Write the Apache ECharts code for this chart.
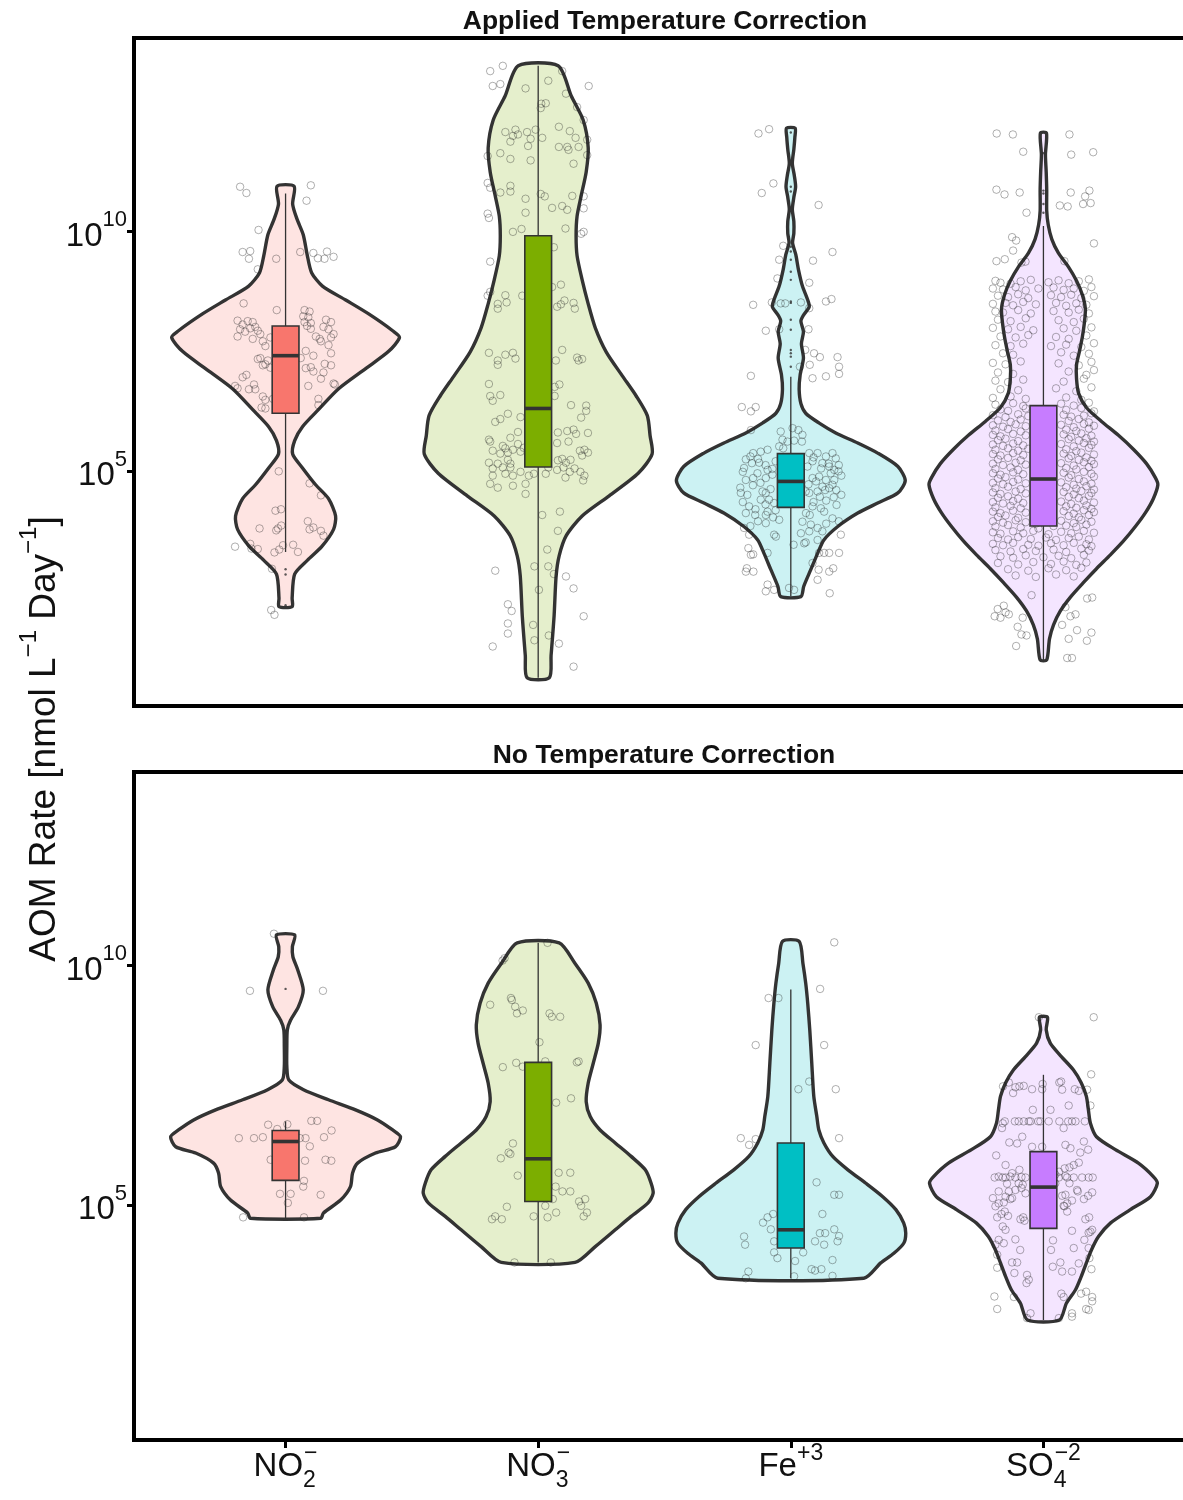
<!DOCTYPE html>
<html>
<head>
<meta charset="utf-8">
<script src="https://cdn.jsdelivr.net/npm/echarts@6/dist/echarts.min.js"></script>
<style>
  html, body { margin: 0; padding: 0; background: #ffffff; }
  #chart { width: 1183px; height: 1500px; }
</style>
</head>
<body>
<div id="chart"></div>
<script>
// ---------------------------------------------------------------------------
// Data: AOM rates by electron acceptor, log10(nmol L^-1 Day^-1)
// ---------------------------------------------------------------------------
const categories = ['NO2-', 'NO3-', 'Fe+3', 'SO4-2'];
const categoryLabels = [
  '{b|NO}{sub|2}{sup|\u2212}',
  '{b|NO}{sub|3}{sup|\u2212}',
  '{b|Fe}{sup|+3}',
  '{b|SO}{sub|4}{sup|\u22122}'
];
const panelTitles = ['Applied Temperature Correction', 'No Temperature Correction'];
const yTickExponents = [5, 10];
const yTitle = '{a|AOM Rate [nmol L}{s|\u22121}{a| Day}{s|\u22121}{a|]}';

// Violin outlines: [log10 rate, half width in category units], top to bottom
const corrNO2Violin = [[10.93,0.034],[10.56,0.028],[10.25,0.045],[9.92,0.070],[9.49,0.086],[9.13,0.103],[8.85,0.146],[8.56,0.238],[8.27,0.329],[7.92,0.424],[7.78,0.451],[7.49,0.408],[7.13,0.317],[6.71,0.210],[6.28,0.131],[5.92,0.067],[5.63,0.036],[5.35,0.028],[5.06,0.067],[4.71,0.119],[4.42,0.170],[4.06,0.198],[3.78,0.190],[3.42,0.143],[3.14,0.087],[2.85,0.036],[2.35,0.026],[2.17,0.026]];
const corrNO3Violin = [[13.44,0.079],[12.81,0.131],[12.31,0.178],[11.73,0.198],[11.23,0.190],[10.73,0.170],[10.31,0.154],[9.90,0.150],[9.48,0.154],[8.98,0.174],[8.48,0.198],[7.98,0.226],[7.48,0.269],[6.98,0.333],[6.56,0.388],[6.15,0.432],[5.73,0.443],[5.35,0.451],[4.95,0.396],[4.48,0.281],[4.06,0.174],[3.65,0.111],[3.23,0.083],[2.81,0.071],[1.98,0.063],[1.15,0.051],[0.69,0.044]];
const corrFeViolin = [[12.14,0.017],[11.95,0.016],[11.7,0.012],[11.41,0.006],[11.15,0.014],[10.92,0.019],[10.7,0.012],[10.45,0.006],[10.2,0.012],[9.95,0.012],[9.75,0.007],[9.5,0.020],[9.2,0.030],[8.85,0.046],[8.56,0.067],[8.42,0.073],[8.25,0.051],[8.12,0.040],[7.9,0.050],[7.65,0.042],[7.35,0.050],[7.0,0.037],[6.7,0.033],[6.4,0.040],[6.2,0.059],[6.0,0.111],[5.79,0.178],[5.58,0.265],[5.37,0.344],[5.09,0.424],[4.8,0.453],[4.54,0.424],[4.33,0.344],[4.12,0.265],[3.84,0.186],[3.56,0.131],[3.29,0.107],[2.94,0.079],[2.59,0.051],[2.38,0.040]];
const corrSO4Violin = [[12.04,0.012],[11.59,0.008],[11.22,0.011],[10.86,0.013],[10.42,0.013],[10.13,0.019],[9.83,0.033],[9.54,0.059],[9.25,0.099],[8.96,0.131],[8.67,0.154],[8.38,0.166],[8.08,0.162],[7.79,0.154],[7.50,0.143],[7.21,0.131],[6.92,0.131],[6.62,0.139],[6.32,0.170],[6.03,0.230],[5.74,0.297],[5.45,0.356],[5.15,0.408],[4.86,0.443],[4.71,0.453],[4.42,0.435],[4.13,0.404],[3.84,0.364],[3.54,0.317],[3.25,0.265],[2.96,0.210],[2.67,0.158],[2.37,0.107],[2.08,0.067],[1.79,0.040],[1.50,0.024],[1.06,0.013]];

const rawNO2Violin = [[10.625,0.036],[10.38,0.027],[10.17,0.029],[9.90,0.048],[9.48,0.070],[9.13,0.051],[8.85,0.020],[8.65,0.007],[8.30,0.005],[7.88,0.005],[7.60,0.013],[7.40,0.071],[7.19,0.170],[6.98,0.277],[6.77,0.364],[6.56,0.424],[6.42,0.455],[6.21,0.435],[6.08,0.356],[5.87,0.285],[5.66,0.265],[5.38,0.257],[5.10,0.218],[4.83,0.150],[4.72,0.139]];
const rawNO3Violin = [[10.46,0.083],[10.03,0.146],[9.62,0.198],[9.20,0.230],[8.75,0.245],[8.37,0.238],[7.95,0.218],[7.54,0.198],[7.15,0.190],[6.84,0.206],[6.56,0.245],[6.29,0.305],[6.01,0.368],[5.73,0.424],[5.45,0.447],[5.24,0.455],[5.04,0.435],[4.76,0.368],[4.48,0.305],[4.13,0.226],[3.80,0.146]];
const rawFeViolin = [[10.49,0.033],[10.03,0.048],[9.62,0.059],[9.20,0.067],[8.65,0.075],[7.95,0.083],[7.26,0.091],[6.84,0.103],[6.56,0.111],[6.29,0.131],[6.01,0.166],[5.73,0.226],[5.45,0.297],[5.17,0.364],[4.90,0.416],[4.62,0.447],[4.41,0.455],[4.20,0.447],[3.99,0.408],[3.79,0.356],[3.47,0.289]];
const rawSO4Violin = [[8.91,0.016],[8.65,0.011],[8.37,0.027],[8.09,0.071],[7.81,0.119],[7.54,0.150],[7.26,0.170],[6.98,0.178],[6.70,0.186],[6.42,0.210],[6.15,0.285],[5.87,0.376],[5.59,0.435],[5.45,0.451],[5.17,0.424],[4.90,0.344],[4.62,0.265],[4.34,0.218],[4.06,0.190],[3.79,0.170],[3.51,0.150],[3.23,0.127],[2.95,0.091],[2.60,0.063]];

// Box statistics: [lower whisker, Q1, median, Q3, upper whisker]
const corrBoxes = [[3.31,6.2,7.4,8.02,10.78],[0.69,5.08,6.3,9.9,13.44],[2.38,4.24,4.78,5.36,6.96],[1.06,3.85,4.83,6.36,10.1]];
const rawBoxes  = [[4.72,5.51,6.32,6.55,6.74],[3.80,5.07,5.96,7.97,10.46],[3.47,4.10,4.48,6.29,9.49],[2.60,4.51,5.37,6.11,7.71]];

// Boxplot outliers
const corrOutliers = [[2.95,2.84,2.2],[],[12.05,10.92,10.82,9.67,9.57,9.40,9.15,8.98,8.53,8.5,8.15,7.94,7.52,7.45,7.38,7.17],[11.62,10.84,10.78,10.56,10.38]];
const rawOutliers  = [[9.5],[],[],[]];

// Individual measurements: [horizontal jitter (category units), log10 rate]
const corrNO2Pts = [[-0.18,10.92],[-0.155,10.79],[0.10,10.95],[0.083,10.63],[-0.107,10.02],[-0.17,9.56],[-0.14,9.58],[-0.145,9.42],[-0.037,9.42],[0.058,9.56],[0.11,9.54],[0.128,9.43],[0.154,9.42],[0.164,9.57],[0.19,9.46],[-0.11,9.2],[-0.166,8.49],[-0.035,8.35],[0.075,8.35],[0.095,8.32],
[-0.19,8.13],[-0.17,8.05],[-0.15,8.12],[-0.13,8.1],[-0.12,8.0],[-0.18,7.95],[-0.16,7.9],[-0.14,7.97],[-0.11,7.92],[-0.1,7.85],[-0.19,7.8],[-0.13,7.75],[-0.09,7.7],[-0.06,7.78],[-0.08,7.6],[-0.1,7.35],[-0.11,7.33],[-0.07,7.3],
[0.07,8.22],[0.09,8.2],[0.075,8.1],[0.1,8.08],[0.085,8.02],[0.1,7.96],[0.16,8.15],[0.18,8.1],[0.15,8.0],[0.17,7.95],[0.19,7.85],[0.18,7.78],[0.12,7.8],[0.14,7.7],[0.135,7.75],[0.17,7.62],[0.18,7.45],[0.11,7.4],[0.08,7.5],[0.06,7.35],
[-0.09,7.2],[-0.08,7.22],[-0.06,7.15],[0.08,7.14],[0.1,7.16],[0.155,7.23],[0.18,7.2],[-0.17,6.95],[-0.155,7.0],[-0.125,6.8],[-0.2,6.77],[0.09,6.77],[0.11,7.07],[0.14,6.92],[0.15,7.05],[0.19,6.82],[0.195,6.8],
[-0.19,6.72],[-0.145,6.7],[-0.12,6.7],[-0.09,6.55],[-0.08,6.48],[0.13,6.5],[-0.05,6.5],[-0.095,6.32],[-0.08,6.3],[0.13,6.37],
[-0.027,4.99],[0.095,4.74],[0.14,4.49],[-0.04,4.17],[-0.018,4.2],[0.088,3.95],[0.095,3.78],[0.11,3.82],[0.14,3.75],[0.15,3.65],[-0.103,3.8],[-0.03,3.8],[-0.017,3.86],[-0.037,3.76],
[-0.2,3.42],[-0.14,3.48],[-0.135,3.38],[-0.11,3.37],[-0.025,3.36],[-0.01,3.45],[0.03,3.46],[0.049,3.31],[-0.044,3.3],[-0.054,2.96],[-0.057,2.1],[-0.044,2.0]];

const corrNO3Pts = [[-0.19,13.33],[-0.14,13.44],[-0.18,13.02],[-0.15,13.06],[-0.05,12.97],[0.04,13.13],[0.095,13.33],[0.2,13.02],[0.11,12.86],[0.012,12.65],[0.03,12.66],[0.01,12.56],[0.154,12.58],[0.18,12.31],
[-0.13,12.06],[-0.10,11.98],[-0.09,12.11],[-0.08,12.01],[-0.044,12.06],[-0.03,11.92],[-0.01,12.11],[0.016,11.94],[0.082,12.17],[0.125,12.08],[0.148,11.94],[0.194,11.9],[-0.11,11.86],[-0.15,11.62],[-0.11,11.5],[-0.04,11.77],[0.082,11.75],[0.115,11.75],[0.12,11.69],[0.16,11.75],[0.194,11.58],[0.14,11.4],[-0.03,11.47],[-0.2,11.56],
[-0.2,11.0],[-0.19,10.9],[-0.11,10.94],[-0.15,10.8],[-0.11,10.82],[-0.05,10.67],[0.01,10.77],[0.026,10.72],[0.135,10.73],[0.18,10.72],[0.055,10.48],[0.095,10.52],[0.115,10.44],[0.18,10.47],[-0.05,10.38],[-0.2,10.36],[-0.195,10.27],
[-0.10,9.98],[-0.066,10.04],[0.108,10.05],[0.18,9.98],[0.17,9.94],[0.062,9.66],[-0.19,9.36],
[-0.2,8.65],[-0.19,8.73],[-0.16,8.48],[-0.16,8.38],[-0.13,8.66],[-0.125,8.51],[-0.063,8.65],[0.055,8.83],[0.09,8.88],[0.075,8.42],[0.09,8.47],[0.104,8.55],[0.14,8.5],[0.145,8.38],
[-0.195,7.46],[-0.16,7.3],[-0.13,7.42],[-0.10,7.46],[-0.09,7.34],[-0.16,7.21],[0.07,7.3],[0.095,7.52],[0.154,7.36],[0.16,7.3],[0.174,7.33],
[-0.195,6.81],[-0.19,6.56],[-0.18,6.46],[-0.15,6.58],[0.065,6.75],[0.084,6.8],[0.065,6.56],[0.13,6.37],[0.19,6.36],
[-0.12,6.19],[-0.07,6.12],[-0.17,6.02],[-0.15,6.08],[-0.195,5.65],[-0.19,5.61],[-0.08,5.81],[-0.11,5.69],[-0.14,5.52],[-0.13,5.47],[-0.12,5.38],[-0.10,5.44],[-0.08,5.56],[-0.07,5.4],[-0.057,5.48],[-0.18,5.42],[-0.15,5.36],[-0.12,5.23],
[0.078,5.8],[0.115,5.83],[0.14,5.86],[0.15,5.77],[0.197,5.79],[0.17,6.11],[0.19,6.25],[0.12,5.61],[0.075,5.58],[0.165,5.42],[0.183,5.44],[0.197,5.38],[0.174,5.32],[0.128,5.23],[0.095,5.25],[0.078,5.22],[0.11,5.17],
[-0.195,5.17],[-0.18,5.05],[-0.16,5.15],[-0.18,4.9],[-0.19,4.73],[-0.16,4.65],[-0.13,4.94],[-0.11,5.07],[-0.10,4.9],[-0.07,4.98],[-0.05,4.73],[-0.037,4.9],[-0.017,4.94],[0.03,4.94],[0.04,5.07],[0.075,5.02],[0.10,5.07],[0.125,4.98],[0.144,5.05],[0.167,4.98],[0.183,4.9],[0.178,4.8],[0.108,4.86],[-0.05,4.52],[-0.14,5.07],[-0.10,4.69],[-0.11,5.15],
[0.086,4.15],[0.078,3.75],[0.016,4.08],[0.036,3.36],[-0.015,3.01],[0.04,3.01],[0.062,2.85],[0.11,2.8],[0.14,2.55],[-0.17,2.92],[0.003,2.52],[-0.12,2.22],[-0.105,2.08],[0.18,1.97],[-0.12,1.82],[-0.12,1.61],[-0.02,1.79],[0.042,1.57],[0.082,1.4],[-0.18,1.34],[-0.015,1.47],[0.14,0.92]];

const corrFePts = [[-0.128,12.03],[-0.086,12.12],[-0.069,10.99],[-0.115,10.79],[0.11,10.54],[-0.03,9.69],[0.165,9.56],[-0.046,9.40],[0.088,9.38],[-0.053,9.01],[0.073,8.92],
[-0.149,8.46],[-0.075,8.51],[-0.04,8.49],[-0.022,8.49],[0.04,8.51],[0.073,8.39],[0.139,8.53],[0.161,8.58],[-0.099,7.92],[-0.046,7.95],[0.07,7.95],
[0.057,7.52],[0.092,7.45],[0.115,7.37],[0.185,7.37],[0.191,7.17],[0.075,7.21],[0.036,7.17],[-0.158,6.98],[0.086,6.93],[0.139,6.97],[0.191,7.02],[-0.194,6.33],[-0.158,6.24],[-0.139,6.33],[-0.158,5.85],
[-0.04,5.82],[0.007,5.89],[0.03,5.85],[0.046,5.75],[-0.033,5.65],[-0.013,5.61],[0.013,5.63],[0.044,5.61],[-0.046,5.51],[-0.03,5.47],[-0.092,5.44],[-0.119,5.40],[-0.149,5.37],[-0.178,5.24],[-0.185,5.06],[-0.154,5.16],[-0.125,5.17],[-0.092,5.02],[-0.073,5.04],[-0.132,4.95],[-0.149,4.85],[-0.178,4.81],[-0.099,4.85],[-0.073,4.92],
[0.073,5.37],[0.106,5.37],[0.139,5.30],[0.165,5.37],[0.178,5.26],[0.125,5.16],[0.086,5.20],[0.066,5.09],[0.152,5.09],[0.172,5.02],[0.189,4.99],[0.158,4.95],[0.112,4.88],[0.086,4.85],[0.139,4.81],[0.172,4.81],[0.125,4.67],[0.152,4.64],[0.165,4.71],[0.136,4.60],[0.106,4.57],[0.115,4.46],[0.059,4.57],[0.073,4.54],
[-0.198,4.54],[-0.172,4.50],[-0.112,4.57],[-0.099,4.54],[-0.119,4.40],[-0.086,4.40],[-0.066,4.33],[-0.165,4.26],[-0.178,4.12],[-0.141,4.08],[-0.099,4.08],[-0.092,4.15],[-0.07,4.03],[0.086,4.26],[0.119,4.22],[0.132,4.15],[0.181,4.29],[0.075,4.08],[0.165,4.01],[0.046,3.94],[0.079,3.88],[0.106,3.81],[0.125,3.74],[-0.046,3.98],[-0.066,3.67],[0.198,3.67],[0.053,3.49],[0.011,3.46],
[-0.16,5.3],[-0.13,5.25],[-0.1,5.12],[-0.06,5.2],[0.09,5.28],[0.12,5.05],[0.15,5.15],[0.19,5.12],[-0.19,4.98],[-0.15,4.7],[-0.12,4.75],[-0.08,4.62],[0.07,4.72],[0.1,4.78],[0.18,4.6],[0.2,4.5],[-0.19,4.35],[-0.14,4.2],[-0.1,4.3],[0.09,4.35],[0.14,4.38],[0.17,4.45],[-0.06,4.18],[0.06,4.12],[0.19,3.95],[-0.13,3.95],[-0.16,3.85],[0.14,3.9],[-0.2,4.65],[0.2,4.9],
[-0.185,3.81],[-0.165,3.67],[-0.099,3.91],[-0.059,3.63],[0.04,3.70],[0.073,3.74],[0.106,3.56],[0.059,3.51],[-0.168,3.39],[-0.158,3.25],[-0.149,3.26],[-0.092,3.29],[0.112,3.29],[0.132,3.29],[0.152,3.29],[0.191,3.29],
[-0.178,2.90],[-0.148,2.90],[-0.174,2.97],[0.086,3.08],[0.11,2.94],[0.168,2.97],[0.152,2.90],[-0.092,2.63],[-0.066,2.52],[-0.099,2.49],[0.106,2.73],[0.154,2.45],[-0.007,2.56],[0.013,2.52]];

const corrSO4Pts = [[-0.185,12.03],[-0.121,12.01],[0.103,12.01],[-0.08,11.65],[0.11,11.59],[0.197,11.64],[-0.186,10.86],[-0.154,10.76],[-0.094,10.80],[0.108,10.80],[0.165,10.72],[0.182,10.84],[0.157,10.56],[0.187,10.58],[0.065,10.53],[0.096,10.51],[-0.067,10.38],
[-0.124,9.87],[-0.108,9.80],[0.2,9.74],[-0.12,9.59],[-0.186,9.37],[-0.153,9.41],[-0.087,9.34],[-0.071,9.36],[0.083,9.37],
[-0.19,8.96],[-0.17,8.92],[-0.13,8.9],[-0.09,8.95],[-0.05,8.98],[0.02,8.93],[0.06,8.97],[0.1,8.91],[0.14,8.95],[0.18,8.99],
[-0.2,8.8],[-0.16,8.78],[-0.11,8.83],[-0.07,8.76],[-0.02,8.8],[0.04,8.82],[0.08,8.77],[0.12,8.8],[0.16,8.75],[0.19,8.83],
[-0.18,8.65],[-0.14,8.62],[-0.1,8.68],[-0.06,8.6],[0.03,8.66],[0.07,8.62],[0.11,8.67],[0.15,8.6],[0.2,8.64],
[-0.2,8.48],[-0.15,8.5],[-0.12,8.45],[-0.08,8.52],[-0.03,8.47],[0.05,8.5],[0.09,8.44],[0.13,8.49],[0.17,8.46],
[-0.19,8.32],[-0.16,8.3],[-0.1,8.35],[-0.05,8.28],[0.04,8.33],[0.1,8.3],[0.14,8.36],[0.18,8.28],
[-0.18,8.15],[-0.13,8.12],[-0.07,8.18],[0.06,8.14],[0.12,8.1],[0.16,8.17],
[-0.2,7.98],[-0.14,7.95],[-0.09,8.0],[-0.04,7.93],[0.08,7.97],[0.13,7.92],[0.19,7.99],
[-0.17,7.8],[-0.11,7.78],[-0.06,7.83],[0.05,7.79],[0.1,7.75],[0.17,7.82],
[-0.19,7.62],[-0.13,7.6],[-0.08,7.65],[0.03,7.6],[0.09,7.63],[0.15,7.58],[0.2,7.66],
[-0.16,7.45],[-0.12,7.42],[0.07,7.47],[0.12,7.4],[0.18,7.44],
[-0.2,7.25],[-0.15,7.22],[-0.09,7.28],[0.06,7.24],[0.14,7.2],[0.19,7.27],
[-0.18,7.05],[-0.12,7.02],[0.1,7.07],[0.17,7.0],[0.2,7.1],
[-0.19,6.88],[-0.14,6.85],[-0.08,6.9],[0.08,6.86],[0.16,6.92],
[-0.17,6.7],[-0.1,6.68],[0.05,6.72],[0.13,6.66],[0.19,6.74],
[-0.2,6.52],[-0.13,6.55],[-0.07,6.5],[0.09,6.53],[0.15,6.48],
[-0.19,6.38],[-0.12,6.41],[-0.08,6.35],[0.07,6.4],[0.12,6.36],[0.18,6.42],
[-0.17,6.28],[-0.14,6.25],[-0.07,6.3],[0.09,6.27],[0.15,6.31],[0.2,6.24],
[-0.2,6.16],[-0.15,6.12],[-0.1,6.18],[-0.06,6.14],[0.08,6.17],[0.11,6.13],[0.16,6.15],[0.19,6.2],
[-0.18,6.05],[-0.13,6.02],[-0.09,6.07],[0.1,6.04],[0.14,6.08],[0.18,6.01],
[-0.2,5.95],[-0.16,5.92],[-0.11,5.97],[-0.07,5.93],[0.07,5.96],[0.12,5.91],[0.16,5.98],[0.2,5.94],
[-0.19,5.84],[-0.14,5.87],[-0.09,5.82],[0.09,5.86],[0.13,5.83],[0.18,5.88],
[-0.2,5.75],[-0.17,5.72],[-0.12,5.77],[-0.07,5.74],[0.08,5.76],[0.11,5.71],[0.15,5.78],[0.19,5.73],
[-0.18,5.64],[-0.15,5.67],[-0.1,5.62],[0.1,5.66],[0.14,5.63],[0.17,5.68],[0.2,5.61],
[-0.2,5.55],[-0.16,5.52],[-0.12,5.57],[-0.08,5.53],[0.07,5.56],[0.12,5.51],[0.16,5.58],[0.19,5.54],
[-0.19,5.44],[-0.14,5.47],[-0.1,5.42],[-0.06,5.46],[0.09,5.45],[0.13,5.41],[0.18,5.48],
[-0.2,5.35],[-0.17,5.32],[-0.12,5.37],[-0.08,5.33],[0.08,5.36],[0.11,5.31],[0.15,5.38],[0.2,5.34],
[-0.18,5.24],[-0.14,5.27],[-0.09,5.22],[0.1,5.26],[0.14,5.23],[0.17,5.28],[0.19,5.21],
[-0.2,5.15],[-0.16,5.12],[-0.11,5.17],[-0.07,5.13],[0.07,5.16],[0.12,5.11],[0.16,5.18],[0.2,5.14],
[-0.19,5.04],[-0.13,5.07],[-0.1,5.02],[0.09,5.06],[0.13,5.03],[0.18,5.08],
[-0.2,4.95],[-0.17,4.92],[-0.12,4.97],[-0.08,4.93],[0.08,4.96],[0.11,4.91],[0.16,4.98],[0.19,4.94],
[-0.18,4.84],[-0.15,4.87],[-0.1,4.82],[0.1,4.86],[0.14,4.83],[0.2,4.88],
[-0.2,4.75],[-0.16,4.72],[-0.12,4.77],[-0.07,4.74],[0.07,4.76],[0.12,4.71],[0.16,4.78],[0.19,4.73],
[-0.19,4.64],[-0.14,4.67],[-0.09,4.62],[0.09,4.66],[0.13,4.63],[0.17,4.68],[0.2,4.61],
[-0.2,4.55],[-0.17,4.52],[-0.11,4.57],[-0.07,4.53],[0.08,4.56],[0.12,4.51],[0.15,4.58],[0.19,4.54],
[-0.18,4.44],[-0.14,4.47],[-0.1,4.42],[0.1,4.46],[0.14,4.43],[0.18,4.48],
[-0.2,4.35],[-0.16,4.32],[-0.12,4.37],[-0.08,4.33],[0.07,4.36],[0.11,4.31],[0.16,4.38],[0.2,4.34],
[-0.19,4.24],[-0.13,4.27],[-0.09,4.22],[0.09,4.26],[0.13,4.23],[0.17,4.28],[0.19,4.21],
[-0.2,4.15],[-0.17,4.12],[-0.12,4.17],[-0.07,4.13],[0.08,4.16],[0.12,4.11],[0.16,4.18],[0.2,4.14],
[-0.18,4.04],[-0.15,4.07],[-0.1,4.02],[0.1,4.06],[0.14,4.03],[0.18,4.08],
[-0.2,3.95],[-0.16,3.92],[-0.11,3.97],[-0.07,3.93],[-0.03,3.9],[0.03,3.94],[0.07,3.96],[0.12,3.91],[0.15,3.98],[0.19,3.94],
[-0.19,3.84],[-0.14,3.87],[-0.09,3.82],[-0.02,3.8],[0.04,3.85],[0.09,3.86],[0.13,3.83],[0.17,3.88],
[-0.2,3.72],[-0.17,3.69],[-0.12,3.74],[-0.08,3.7],[-0.04,3.75],[0.02,3.68],[0.07,3.73],[0.11,3.7],[0.16,3.75],[0.2,3.71],
[-0.18,3.6],[-0.14,3.57],[-0.1,3.62],[-0.05,3.58],[0.01,3.61],[0.05,3.56],[0.1,3.6],[0.14,3.63],[0.18,3.57],
[-0.2,3.48],[-0.16,3.45],[-0.12,3.5],[-0.06,3.46],[-0.02,3.44],[0.03,3.49],[0.08,3.45],[0.12,3.5],[0.17,3.47],[0.19,3.43],
[-0.19,3.35],[-0.13,3.32],[-0.08,3.37],[-0.03,3.33],[0.04,3.36],[0.09,3.31],[0.15,3.38],[0.18,3.34],
[-0.17,3.22],[-0.12,3.19],[-0.07,3.24],[0.0,3.2],[0.06,3.23],[0.11,3.18],[0.16,3.25],
[-0.18,3.08],[-0.1,3.05],[-0.04,3.1],[0.03,3.06],[0.08,3.11],[0.13,3.04],[0.17,3.09],
[-0.14,2.95],[-0.06,2.92],[0.02,2.97],[0.09,2.93],[0.15,2.98],
[-0.11,2.82],[-0.03,2.79],[0.05,2.84],[0.12,2.8],
[-0.181,2.12],[-0.157,2.19],[-0.15,2.05],[-0.193,1.97],[-0.17,1.94],[-0.137,2.01],[-0.082,1.94],[-0.102,1.75],[-0.087,1.59],[-0.067,1.57],[-0.108,1.35],[0.087,2.16],[0.107,1.97],[0.127,2.01],[0.173,2.34],[0.193,2.36],[0.074,1.79],[0.1,1.5],[0.133,1.68],[0.172,1.46],[0.19,1.63],[-0.047,2.41],[0.094,1.1],[0.113,1.1]];

const rawNO2Pts = [[-0.046,10.65],[-0.141,9.46],[0.148,9.46],[-0.069,6.67],[-0.033,6.58],[0.007,6.68],[0.102,6.75],[0.125,6.75],[0.182,6.55],[0.152,6.41],[-0.185,6.39],[-0.125,6.39],[-0.09,6.41],[0.057,6.39],[0.079,6.39],[0.096,6.22],[-0.059,5.94],[0.077,5.92],[0.158,5.94],[0.181,5.92],[0.073,5.5],[0.07,5.38],[-0.022,5.23],[0.02,5.23],[0.009,5.04],[0.139,5.21],[-0.168,4.74],[0.073,4.74]];

const rawNO3Pts = [[0.037,10.46],[-0.133,10.14],[-0.141,10.09],[-0.19,9.17],[-0.108,9.31],[-0.104,9.27],[-0.091,9.13],[-0.061,9.05],[-0.084,8.99],[0.045,8.99],[0.054,8.92],[0.087,8.92],[0.005,8.39],[-0.14,7.87],[-0.087,7.96],[-0.061,7.88],[0.028,7.99],[0.153,7.97],[0.16,7.99],[0.071,7.13],[0.13,7.22],[-0.1,6.28],[-0.148,5.97],[-0.117,6.09],[-0.11,6.06],[-0.081,5.61],[0.081,5.67],[0.127,5.67],[0.069,5.38],[0.096,5.28],[0.127,5.28],[0.162,5.07],[0.186,5.12],[0.17,4.98],[0.058,5.12],[0.028,4.98],[-0.124,4.96],[-0.183,4.7],[-0.17,4.76],[-0.144,4.7],[-0.018,4.76],[0.037,4.74],[0.071,4.84],[0.193,4.84],[0.18,4.76],[-0.094,3.8],[0.05,3.8]];

const rawFePts = [[0.172,10.47],[0.116,9.5],[-0.088,9.31],[-0.049,9.31],[-0.139,8.33],[0.132,8.33],[0.03,7.41],[0.073,7.57],[0.178,7.41],[-0.198,6.39],[-0.165,6.25],[-0.139,6.37],[0.191,6.39],[0.102,5.47],[0.172,5.21],[0.191,5.21],[-0.11,4.63],[-0.092,4.74],[-0.07,4.81],[-0.079,4.49],[0.125,4.81],[0.115,4.41],[0.136,4.41],[0.172,4.49],[0.191,4.35],[0.185,4.24],[0.096,4.24],[0.132,4.17],[-0.066,4.24],[-0.185,4.34],[-0.181,4.17],[-0.066,4.01],[-0.053,3.89],[0.049,4.01],[0.017,3.83],[0.165,3.85],[-0.168,3.61],[0.082,3.66],[0.096,3.63],[0.121,3.66],[0.165,3.52],[-0.178,3.47],[0.013,3.51]];

const rawSO4Pts = [[-0.018,8.91],[0.199,8.91],[0.189,7.72],
[-0.16,7.47],[-0.137,7.55],[-0.12,7.33],[-0.111,7.45],[-0.095,7.47],[-0.078,7.48],[-0.045,7.41],[-0.005,7.41],[-0.003,7.52],[0.063,7.55],[0.074,7.4],[0.124,7.41],[0.14,7.375],[0.173,7.4],[0.07,7.57],
[-0.042,6.98],[0.028,6.98],[0.1,7.07],[0.186,7.07],
[-0.153,6.74],[-0.113,6.74],[-0.098,6.74],[-0.078,6.74],[-0.058,6.74],[-0.051,6.74],[-0.021,6.74],[-0.012,6.74],[0.021,6.74],[0.063,6.74],[0.098,6.74],[0.113,6.74],[0.127,6.74],[0.164,6.74],[-0.161,6.7],
[0.08,6.6],[-0.164,6.6],[-0.084,6.42],[-0.104,6.28],[-0.135,6.3],[-0.045,6.21],[-0.005,6.21],[0.087,6.25],[0.107,6.18],[0.16,6.32],[0.177,6.15],[0.146,6.09],[-0.187,6.03],
[-0.15,5.83],[-0.124,5.66],[-0.095,5.73],[0.103,5.78],[0.12,5.83],[0.14,5.88],[0.084,5.76],[0.062,5.69],[0.047,5.63],[0.133,5.31],
[-0.193,5.57],[-0.177,5.59],[-0.161,5.57],[-0.15,5.57],[-0.131,5.59],[-0.111,5.57],[-0.087,5.58],[-0.071,5.57],[0.061,5.57],[0.094,5.57],[0.12,5.57],[0.153,5.57],[0.179,5.57],[0.195,5.57],[0.087,5.6],[0.103,5.45],[0.047,5.45],[-0.098,5.45],[-0.144,5.44],
[-0.137,5.28],[-0.111,5.31],[-0.087,5.35],[-0.082,5.42],[-0.071,5.24],[-0.177,5.28],[-0.15,5.17],[-0.131,5.12],[-0.177,5.03],[-0.157,5.05],[-0.124,5.14],[-0.2,5.14],[0.074,5.19],[0.094,5.03],[0.113,5.09],[0.08,4.98],[0.16,5.12],[0.177,5.19],[0.193,5.26],[0.136,5.28],[0.087,5.21],
[-0.19,4.97],[-0.183,4.74],[-0.166,4.81],[-0.153,4.86],[-0.14,4.77],[-0.091,4.7],[-0.08,4.74],[-0.075,4.67],[-0.161,4.55],[-0.15,4.48],[0.094,4.86],[0.181,4.74],[0.083,4.97],[0.166,4.7],
[0.193,4.48],[0.186,4.44],[0.179,4.42],[0.038,4.26],[0.03,4.06],[-0.111,4.28],[-0.177,4.27],[-0.157,4.2],[-0.092,4.06],[-0.183,3.96],[0.113,4.46],[0.12,4.1],[0.162,4.27],[0.179,4.1],[-0.19,4.17],
[0.037,3.71],[0.067,3.8],[0.074,3.61],[0.113,3.61],[-0.124,3.8],[-0.104,3.8],[-0.115,3.58],[-0.065,3.54],[-0.058,3.44],[-0.067,3.37],[-0.183,3.69],[0.19,3.66],[0.182,3.89],[0.14,3.78],
[-0.194,3.09],[-0.117,3.08],[0.071,3.15],[0.08,3.08],[0.149,3.15],[0.169,3.19],[0.193,3.08],[0.193,2.99],[0.169,2.83],[0.179,2.81],[-0.183,2.83],[0.113,2.74],[0.113,2.67],[-0.051,2.74],[-0.065,2.64],[0.061,2.64]];

// ---------------------------------------------------------------------------
// Styling
// ---------------------------------------------------------------------------
const boxColors = ['#F8766D', '#7CAE00', '#00BFC4', '#C77CFF'];
const violinColors = ['#FEE4E2', '#E5EFCC', '#CCF2F3', '#F4E5FF'];
const FONT = '"Liberation Sans", Arial, Helvetica, sans-serif';
const INK = '#333333';
const BOX_HALF = 0.053;

const panels = [
  { violins: [corrNO2Violin, corrNO3Violin, corrFeViolin, corrSO4Violin], boxes: corrBoxes, outliers: corrOutliers, points: [corrNO2Pts, corrNO3Pts, corrFePts, corrSO4Pts] },
  { violins: [rawNO2Violin, rawNO3Violin, rawFeViolin, rawSO4Violin], boxes: rawBoxes, outliers: rawOutliers, points: [rawNO2Pts, rawNO3Pts, rawFePts, rawSO4Pts] }
];

const pow10 = (e) => Math.pow(10, e);

function violinRenderer(profiles) {
  return function (params, api) {
    const i = params.dataIndex;
    const c = i + 1;
    const prof = profiles[i];
    const right = prof.map(([e, w]) => api.coord([c + w, pow10(e)]));
    const left = prof.slice().reverse().map(([e, w]) => api.coord([c - w, pow10(e)]));
    return {
      type: 'polygon',
      shape: { points: right.concat(left), smooth: 0.25 },
      style: { fill: violinColors[i], stroke: INK, lineWidth: 3.4, lineJoin: 'round' }
    };
  };
}

function boxRenderer(boxes) {
  return function (params, api) {
    const i = params.dataIndex;
    const c = i + 1;
    const [lo, q1, med, q3, hi] = boxes[i];
    const pLo = api.coord([c, pow10(lo)]);
    const pHi = api.coord([c, pow10(hi)]);
    const tl = api.coord([c - BOX_HALF, pow10(q3)]);
    const br = api.coord([c + BOX_HALF, pow10(q1)]);
    const mL = api.coord([c - BOX_HALF, pow10(med)]);
    const mR = api.coord([c + BOX_HALF, pow10(med)]);
    return {
      type: 'group',
      children: [
        { type: 'line', shape: { x1: pLo[0], y1: pLo[1], x2: pHi[0], y2: pHi[1] }, style: { stroke: INK, lineWidth: 1.3 } },
        { type: 'rect', shape: { x: tl[0], y: tl[1], width: br[0] - tl[0], height: br[1] - tl[1] }, style: { fill: boxColors[i], stroke: INK, lineWidth: 1.6 } },
        { type: 'line', shape: { x1: mL[0], y1: mL[1], x2: mR[0], y2: mR[1] }, style: { stroke: INK, lineWidth: 3.6 } }
      ]
    };
  };
}

const series = [];
panels.forEach((p, k) => {
  series.push({
    type: 'custom', xAxisIndex: k, yAxisIndex: k, z: 2, silent: true,
    renderItem: violinRenderer(p.violins), data: [[1, 1e5], [2, 1e5], [3, 1e5], [4, 1e5]]
  });
  const pts = [];
  p.points.forEach((arr, i) => arr.forEach(([dx, e]) => pts.push([i + 1 + dx, pow10(e)])));
  series.push({
    type: 'scatter', xAxisIndex: k, yAxisIndex: k, z: 3, silent: true,
    symbol: 'circle', symbolSize: 7.5, data: pts,
    itemStyle: { color: 'rgba(0,0,0,0)', borderColor: 'rgba(30,30,30,0.52)', borderWidth: 0.85 }
  });
  series.push({
    type: 'custom', xAxisIndex: k, yAxisIndex: k, z: 4, silent: true,
    renderItem: boxRenderer(p.boxes), data: [[1, 1e5], [2, 1e5], [3, 1e5], [4, 1e5]]
  });
  const outs = [];
  p.outliers.forEach((arr, i) => arr.forEach((e) => outs.push([i + 1, pow10(e)])));
  series.push({
    type: 'scatter', xAxisIndex: k, yAxisIndex: k, z: 5, silent: true,
    symbol: 'circle', symbolSize: 2.4, data: outs,
    itemStyle: { color: INK }
  });
});

const yLabelRich = {
  b: { fontSize: 33, fontFamily: FONT, color: '#111', lineHeight: 44, verticalAlign: 'bottom' },
  e: { fontSize: 22, fontFamily: FONT, color: '#111', lineHeight: 22, verticalAlign: 'top' }
};
// all tokens flow from the left; the subscript gets a 1px box so the superscript stacks above it
const xLabelRich = {
  b: { fontSize: 33, fontFamily: FONT, color: '#111', lineHeight: 50, verticalAlign: 'middle', align: 'left' },
  sub: { fontSize: 23, fontFamily: FONT, color: '#111', lineHeight: 20, verticalAlign: 'bottom', width: 1, align: 'left' },
  sup: { fontSize: 23, fontFamily: FONT, color: '#111', lineHeight: 23, verticalAlign: 'top', align: 'left' }
};

function makeGrid(top) {
  return { left: 134, top: top, width: 1061, height: 668, show: true, borderColor: '#000', borderWidth: 4,
           backgroundColor: 'rgba(0,0,0,0)', containLabel: false, outerBoundsMode: 'none' };
}
function makeX(k, showLabels) {
  return {
    type: 'value', gridIndex: k, min: 0.4, max: 4.6,
    axisLine: { show: false }, splitLine: { show: false },
    axisTick: { show: showLabels, customValues: [1, 2, 3, 4], length: 8, lineStyle: { color: '#000', width: 3 } },
    axisLabel: {
      show: showLabels, customValues: [1, 2, 3, 4], margin: 2,
      formatter: (v) => categoryLabels[Math.round(v) - 1] || '', rich: xLabelRich
    }
  };
}
function makeY(k) {
  const ticks = yTickExponents.map(pow10);
  return {
    type: 'log', logBase: 10, gridIndex: k, min: pow10(0.1), max: pow10(14.02),
    axisLine: { show: false }, splitLine: { show: false }, minorTick: { show: false },
    axisTick: { show: true, customValues: ticks, length: 7, lineStyle: { color: '#000', width: 3 } },
    axisLabel: {
      customValues: ticks, margin: 7,
      formatter: (v) => {
        const e = Math.round(Math.log10(v));
        return yTickExponents.indexOf(e) >= 0 && Math.abs(Math.log10(v) - e) < 1e-6 ? '{b|10}{e|' + e + '}' : '';
      },
      rich: yLabelRich
    }
  };
}

const chart = echarts.init(document.getElementById('chart'), null, { renderer: 'canvas', width: 1183, height: 1500 });
chart.setOption({
  animation: false,
  backgroundColor: '#ffffff',
  grid: [makeGrid(38), makeGrid(772)],
  xAxis: [makeX(0, false), makeX(1, true)],
  yAxis: [makeY(0), makeY(1)],
  graphic: [
    { type: 'text', x: 665, y: 22, silent: true,
      style: { text: panelTitles[0], fontSize: 26.5, fontWeight: 'bold', fontFamily: FONT, fill: '#111', align: 'center', verticalAlign: 'middle' } },
    { type: 'text', x: 664, y: 756, silent: true,
      style: { text: panelTitles[1], fontSize: 26.5, fontWeight: 'bold', fontFamily: FONT, fill: '#111', align: 'center', verticalAlign: 'middle' } },
    { type: 'text', x: 40, y: 739, rotation: Math.PI / 2, silent: true,
      style: { text: yTitle, align: 'center', verticalAlign: 'middle',
        rich: {
          a: { fontSize: 37, fontFamily: FONT, fill: '#111', lineHeight: 46, verticalAlign: 'bottom' },
          s: { fontSize: 24, fontFamily: FONT, fill: '#111', lineHeight: 24, verticalAlign: 'top' }
        } } }
  ],
  series: series
});
</script>
</body>
</html>
